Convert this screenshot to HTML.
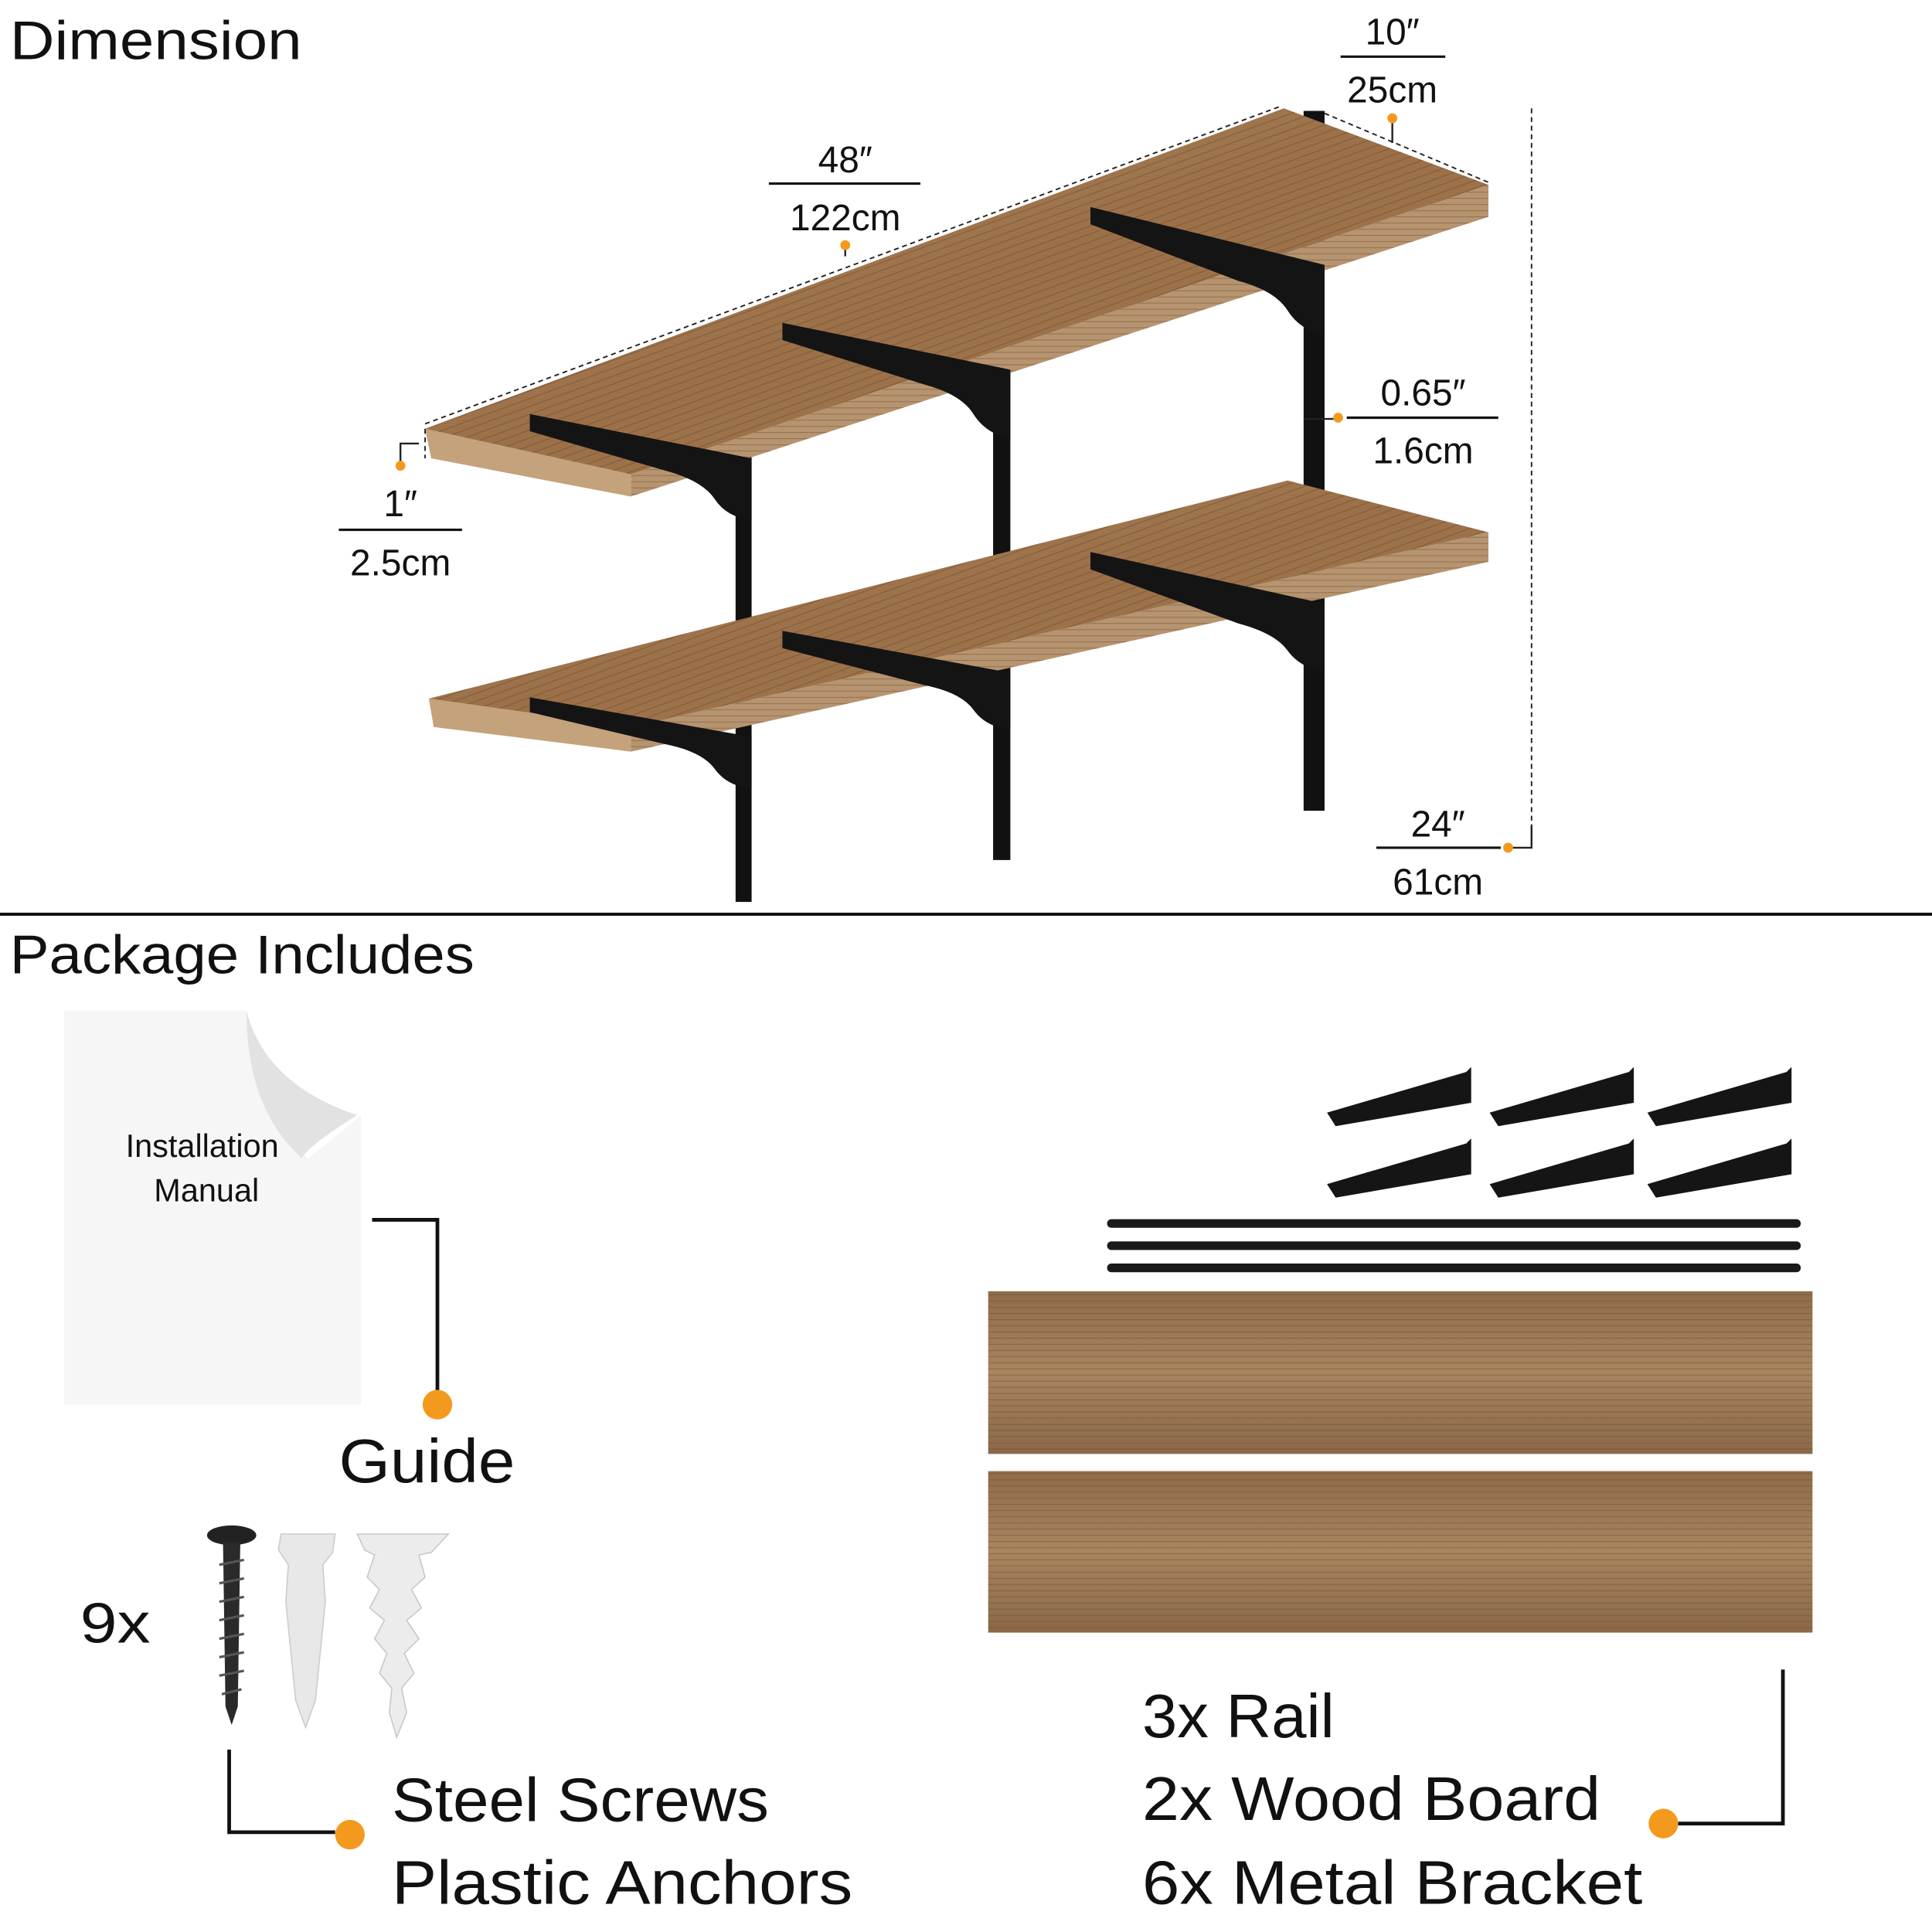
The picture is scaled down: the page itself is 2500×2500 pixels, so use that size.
<!DOCTYPE html>
<html><head><meta charset="utf-8"><style>
html,body{margin:0;padding:0;background:#fff;}
svg{display:block;}
text{font-family:"Liberation Sans",sans-serif;fill:#111;}
</style></head><body>
<svg width="2500" height="2500" viewBox="0 0 1568 1568" xmlns="http://www.w3.org/2000/svg">
<defs>
<linearGradient id="wood" x1="0" y1="0" x2="1" y2="1">
<stop offset="0" stop-color="#b08a62"/><stop offset="0.5" stop-color="#9b7048"/><stop offset="1" stop-color="#a57c55"/>
</linearGradient>
<linearGradient id="board" x1="0" y1="0" x2="0" y2="1">
<stop offset="0" stop-color="#8f6c4a"/><stop offset="0.5" stop-color="#a8855f"/><stop offset="1" stop-color="#8a6848"/>
</linearGradient>
<pattern id="grain" width="6" height="6" patternUnits="userSpaceOnUse" patternTransform="rotate(-20)">
<rect width="6" height="6" fill="none"/><line x1="0" y1="1" x2="6" y2="1" stroke="#6e4c2e" stroke-width="0.8" opacity="0.5"/>
</pattern>
<pattern id="grainh" width="8" height="5" patternUnits="userSpaceOnUse">
<line x1="0" y1="1" x2="8" y2="1" stroke="#6a4a2c" stroke-width="0.7" opacity="0.45"/>
</pattern>
</defs>
<rect width="1568" height="1568" fill="#fff"/>

<text x="8" y="48" font-size="44" textLength="237" lengthAdjust="spacingAndGlyphs">Dimension</text>
<line x1="0" y1="742" x2="1568" y2="742" stroke="#111" stroke-width="2.5"/>
<text x="8" y="790" font-size="44" textLength="377" lengthAdjust="spacingAndGlyphs">Package Includes</text>

<!-- rails -->
<rect x="597" y="370" width="13" height="362" fill="#111"/>
<rect x="806" y="300" width="14" height="398" fill="#111"/>
<rect x="1058" y="90" width="17" height="568" fill="#111"/>

<!-- top shelf -->
<polygon points="345,348 1042,88 1208,150 512,385" fill="url(#wood)"/>
<polygon points="345,348 1042,88 1208,150 512,385" fill="url(#grain)"/>
<polygon points="512,385 1208,150 1208,176 512,403" fill="#b79470"/>
<polygon points="512,385 1208,150 1208,176 512,403" fill="url(#grainh)"/>
<polygon points="345,348 512,385 512,403 350,372" fill="#c4a27c"/>

<!-- bottom shelf -->
<polygon points="348,567 1045,390 1208,432 512,590" fill="url(#wood)"/>
<polygon points="348,567 1045,390 1208,432 512,590" fill="url(#grain)"/>
<polygon points="512,590 1208,432 1208,456 512,610" fill="#b79470"/>
<polygon points="512,590 1208,432 1208,456 512,610" fill="url(#grainh)"/>
<polygon points="348,567 512,590 512,610 352,590" fill="#c4a27c"/>

<!-- brackets -->
<g fill="#141414">
<path d="M430,336 L610,372 L610,422 Q590,420 580,405 Q570,390 540,382 L430,350 Z"/>
<path d="M635,262 L820,300 L820,356 Q800,352 790,336 Q780,320 750,312 L635,276 Z"/>
<path d="M885,168 L1075,215 L1075,272 Q1055,268 1045,252 Q1035,236 1005,228 L885,182 Z"/>
<path d="M430,566 L610,598 L610,640 Q590,638 580,624 Q570,610 540,604 L430,578 Z"/>
<path d="M635,512 L820,546 L820,592 Q800,590 790,576 Q780,562 750,556 L635,526 Z"/>
<path d="M885,448 L1075,490 L1075,545 Q1055,542 1045,528 Q1035,514 1005,506 L885,462 Z"/>
</g>

<!-- dims -->
<g stroke="#222" stroke-width="1.2" stroke-dasharray="4,3" fill="none">
<line x1="345" y1="344" x2="1040" y2="86"/>
<line x1="1075" y1="92" x2="1208" y2="148"/>
<line x1="1243" y1="88" x2="1243" y2="688"/>
<line x1="345" y1="348" x2="345" y2="372"/>
</g>
<g stroke="#222" stroke-width="1.5" fill="none">
<polyline points="1243,670 1243,688 1225,688"/>
<polyline points="325,375 325,360 340,360"/>
<line x1="686" y1="198" x2="686" y2="208"/>
<line x1="1130" y1="96" x2="1130" y2="116"/>
<line x1="1058" y1="340" x2="1084" y2="340"/>
</g>
<g fill="#f39a1e">
<circle cx="686" cy="199" r="4"/><circle cx="1130" cy="96" r="4"/><circle cx="1086" cy="339" r="4"/>
<circle cx="325" cy="378" r="4"/><circle cx="1224" cy="688" r="4"/>
</g>
<g font-size="30" text-anchor="middle">
<text x="1130" y="36">10″</text><line x1="1088" y1="46" x2="1173" y2="46" stroke="#111" stroke-width="2"/><text x="1130" y="83">25cm</text>
<text x="686" y="140">48″</text><line x1="624" y1="149" x2="747" y2="149" stroke="#111" stroke-width="2"/><text x="686" y="187">122cm</text>
<text x="1155" y="329">0.65″</text><line x1="1093" y1="339" x2="1216" y2="339" stroke="#111" stroke-width="2"/><text x="1155" y="376">1.6cm</text>
<text x="325" y="419">1″</text><line x1="275" y1="430" x2="375" y2="430" stroke="#111" stroke-width="2"/><text x="325" y="467">2.5cm</text>
<text x="1167" y="679">24″</text><line x1="1117" y1="688" x2="1218" y2="688" stroke="#111" stroke-width="2"/><text x="1167" y="726">61cm</text>
</g>

<!-- manual -->
<rect x="52" y="820" width="241" height="320" fill="#f6f6f6"/>
<text x="102" y="939" font-size="26">Installation</text>
<path d="M200,820 Q205,900 250,940 Q270,925 293,905 L293,820 Z" fill="#fff"/>
<path d="M200,820 Q215,880 290,905 Q250,930 245,940 Q200,900 200,820 Z" fill="#e2e2e2"/>
<text x="125" y="975" font-size="26">Manual</text>
<polyline points="302,990 355,990 355,1130" stroke="#111" stroke-width="3" fill="none"/>
<circle cx="355" cy="1140" r="12" fill="#f39a1e"/>
<text x="275" y="1203" font-size="50" textLength="143" lengthAdjust="spacingAndGlyphs">Guide</text>

<!-- screws -->
<text x="65" y="1333" font-size="46" textLength="57" lengthAdjust="spacingAndGlyphs">9x</text>
<ellipse cx="188" cy="1246" rx="20" ry="8" fill="#222"/>
<path d="M181,1252 L195,1252 L193,1385 L188,1400 L183,1385 Z" fill="#2a2a2a"/>
<g stroke="#555" stroke-width="2">
<line x1="178" y1="1270" x2="198" y2="1266"/><line x1="178" y1="1285" x2="198" y2="1281"/><line x1="178" y1="1300" x2="198" y2="1296"/><line x1="178" y1="1315" x2="198" y2="1311"/><line x1="178" y1="1330" x2="198" y2="1326"/><line x1="178" y1="1345" x2="198" y2="1341"/><line x1="178" y1="1360" x2="198" y2="1356"/><line x1="180" y1="1375" x2="196" y2="1371"/>
</g>
<path d="M228,1245 L272,1245 L270,1260 L262,1270 L264,1300 L256,1380 L248,1402 L240,1380 L232,1300 L234,1270 L226,1258 Z" fill="#e8e8e8" stroke="#ccc"/>
<path d="M290,1245 L364,1245 L350,1260 L340,1262 L345,1280 L334,1290 L342,1305 L330,1315 L340,1330 L328,1342 L336,1358 L326,1370 L330,1390 L322,1410 L316,1390 L318,1370 L308,1358 L314,1342 L304,1330 L312,1315 L300,1305 L308,1290 L298,1280 L304,1262 L296,1258 Z" fill="#ececec" stroke="#c8c8c8"/>
<polyline points="186,1420 186,1487 272,1487" stroke="#111" stroke-width="3" fill="none"/>
<circle cx="284" cy="1489" r="12" fill="#f39a1e"/>
<text x="318" y="1478" font-size="50" textLength="306" lengthAdjust="spacingAndGlyphs">Steel Screws</text>
<text x="318" y="1545" font-size="50" textLength="374" lengthAdjust="spacingAndGlyphs">Plastic Anchors</text>

<!-- small brackets -->
<g fill="#151515">
<path d="M1077,903 L1190,870 L1194,866 L1194,895 L1084,914 Z"/>
<path d="M1209,903 L1322,870 L1326,866 L1326,895 L1216,914 Z"/>
<path d="M1337,903 L1450,870 L1454,866 L1454,895 L1344,914 Z"/>
<path d="M1077,961 L1190,928 L1194,924 L1194,953 L1084,972 Z"/>
<path d="M1209,961 L1322,928 L1326,924 L1326,953 L1216,972 Z"/>
<path d="M1337,961 L1450,928 L1454,924 L1454,953 L1344,972 Z"/>
</g>
<g stroke="#1a1a1a" stroke-width="7" stroke-linecap="round">
<line x1="902" y1="993" x2="1458" y2="993"/><line x1="902" y1="1011" x2="1458" y2="1011"/><line x1="902" y1="1029" x2="1458" y2="1029"/>
</g>
<rect x="802" y="1048" width="669" height="132" fill="url(#board)"/>
<rect x="802" y="1048" width="669" height="132" fill="url(#grainh)"/>
<rect x="802" y="1194" width="669" height="131" fill="url(#board)"/>
<rect x="802" y="1194" width="669" height="131" fill="url(#grainh)"/>
<polyline points="1447,1355 1447,1480 1362,1480" stroke="#111" stroke-width="3" fill="none"/>
<circle cx="1350" cy="1480" r="12" fill="#f39a1e"/>
<text x="927" y="1410" font-size="50" textLength="156" lengthAdjust="spacingAndGlyphs">3x Rail</text>
<text x="927" y="1477" font-size="50" textLength="372" lengthAdjust="spacingAndGlyphs">2x Wood Board</text>
<text x="927" y="1545" font-size="50" textLength="406" lengthAdjust="spacingAndGlyphs">6x Metal Bracket</text>
</svg>
</body></html>
